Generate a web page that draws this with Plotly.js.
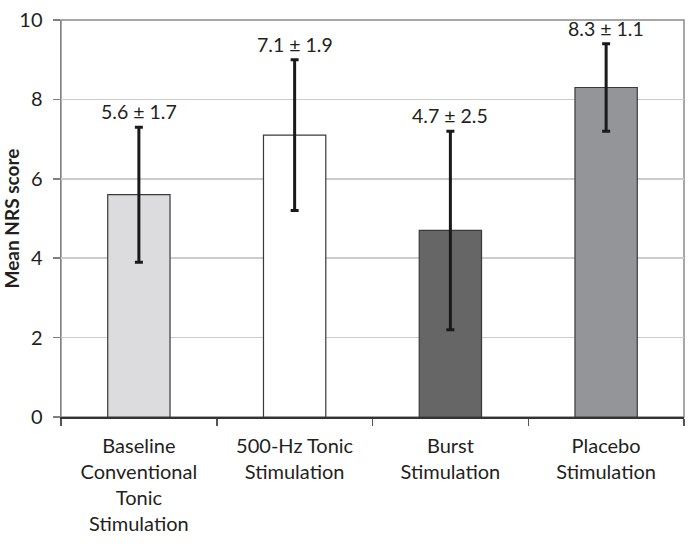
<!DOCTYPE html>
<html>
<head>
<meta charset="utf-8">
<script src="https://cdn.plot.ly/plotly-3.0.1.min.js"></script>
<style>
  html, body { margin: 0; padding: 0; background: #fff; }
  #chart { width: 692px; height: 548px; }
</style>
</head>
<body>
<div id="chart"></div>
<script>
// Stimulation conditions and their mean NRS scores (± SD)
const categories = [
  "Baseline<br>Conventional<br>Tonic<br>Stimulation",
  "500-Hz Tonic<br>Stimulation",
  "Burst<br>Stimulation",
  "Placebo<br>Stimulation"
];
const meanScores = [5.6, 7.1, 4.7, 8.3];
const sdScores = [1.7, 1.9, 2.5, 1.1];
const barColors = ["#dcdcde", "#ffffff", "#666666", "#939598"];
const yTicks = [0, 2, 4, 6, 8, 10];

const textColor = "#231f20";
const fontFamily = "Lato, 'Open Sans', sans-serif";

const trace = {
  type: "bar",
  x: categories,
  y: meanScores,
  marker: {
    color: barColors,
    line: { color: "#3a3a3a", width: 1.2 }
  },
  error_y: {
    type: "data",
    array: sdScores,
    visible: true,
    color: "#1a1a1a",
    thickness: 3,
    width: 4
  },
  hoverinfo: "none"
};

// Mean ± SD labels sit just above each error bar
const annotations = categories.map((c, i) => ({
  x: c,
  y: meanScores[i] + sdScores[i],
  xref: "x",
  yref: "y",
  text: meanScores[i].toFixed(1) + " ± " + sdScores[i].toFixed(1),
  showarrow: false,
  yanchor: "bottom",
  yshift: 2,
  font: { family: fontFamily, size: 19.5, color: textColor }
}));

const layout = {
  width: 692,
  height: 548,
  margin: { l: 61, r: 8, t: 20, b: 131 },
  paper_bgcolor: "#ffffff",
  plot_bgcolor: "#ffffff",
  showlegend: false,
  bargap: 0.6,
  font: { family: fontFamily, color: textColor },
  xaxis: {
    type: "category",
    tickson: "boundaries",
    ticks: "outside",
    ticklen: 7,
    tickwidth: 1.5,
    tickcolor: "#555555",
    showline: true,
    linecolor: "#333333",
    linewidth: 1.5,
    showgrid: false,
    ticklabelstandoff: 10,
    tickfont: { family: fontFamily, size: 20, color: textColor },
    fixedrange: true
  },
  yaxis: {
    range: [0, 10],
    tickvals: yTicks,
    ticktext: yTicks.map(String),
    ticks: "outside",
    ticklen: 7,
    tickwidth: 1.5,
    tickcolor: "#808080",
    showline: true,
    linecolor: "#858585",
    linewidth: 1.5,
    showgrid: true,
    gridcolor: "#cccccc",
    gridwidth: 1.5,
    zeroline: false,
    ticklabelstandoff: 6,
    tickfont: { family: fontFamily, size: 20, color: textColor },
    title: {
      text: "Mean NRS score",
      font: { family: fontFamily, size: 19, color: textColor, weight: "bold" },
      standoff: 8
    },
    fixedrange: true
  },
  shapes: [{
    type: "rect",
    xref: "paper",
    yref: "paper",
    x0: 0, x1: 1, y0: 0, y1: 1,
    line: { color: "#8a8a8a", width: 1.5 },
    layer: "below"
  }],
  annotations: annotations
};

Plotly.newPlot("chart", [trace], layout, { displayModeBar: false, staticPlot: true });
</script>
</body>
</html>
